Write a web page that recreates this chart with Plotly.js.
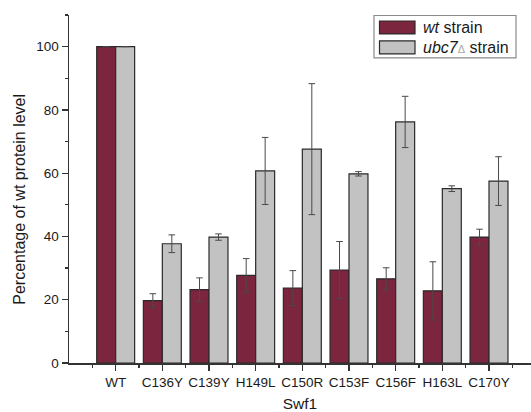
<!DOCTYPE html>
<html>
<head>
<meta charset="utf-8">
<script src="https://cdn.plot.ly/plotly-3.0.1.min.js"></script>
<style>
html,body{margin:0;padding:0;background:#fff;overflow:hidden;}
#chart{width:531px;height:412px;}
</style>
</head>
<body>
<div id="chart"></div>
<script>
// ---- data ----
const categories = ["WT","C136Y","C139Y","H149L","C150R","C153F","C156F","H163L","C170Y"];
const wtValues   = [100, 19.7, 23.2, 27.7, 23.7, 29.4, 26.6, 22.8, 39.8];
const wtErrors   = [0,   2.2,  3.7,  5.3,  5.5,  9.0,  3.5,  9.2,  2.5];
const ubcValues  = [100, 37.7, 39.8, 60.7, 67.6, 59.8, 76.2, 55.1, 57.5];
const ubcErrors  = [0,   2.8,  1.0,  10.6, 20.7, 0.7,  8.1,  0.9,  7.7];
const seriesNames = ["wt strain", "ubc7Δ strain"];
const yTicks = [0, 20, 40, 60, 80, 100];

const xIdx = categories.map((c, i) => i);

// ---- layout geometry ----
const W = 531, H = 412;
const M = {l: 69, r: 0, t: 15, b: 48.5};
const pw = W - M.l - M.r, ph = H - M.t - M.b;
const px = x => (x - M.l) / pw;
const py = y => (H - M.b - y) / ph;

const wtColor = "#7B253F";
const ubcColor = "#C2C2C2";
const edge = "#2a2a2a";
const errColor = "#4a4a4a";

const traces = [
  {
    type: "bar", name: seriesNames[0], x: xIdx, y: wtValues,
    marker: {color: wtColor, line: {color: edge, width: 1.2}},
    error_y: {type: "data", array: wtErrors, visible: true, color: errColor, thickness: 1, width: 3.3},
    showlegend: false, hoverinfo: "skip"
  },
  {
    type: "bar", name: seriesNames[1], x: xIdx, y: ubcValues,
    marker: {color: ubcColor, line: {color: edge, width: 1.2}},
    error_y: {type: "data", array: ubcErrors, visible: true, color: errColor, thickness: 1, width: 3.3},
    showlegend: false, hoverinfo: "skip"
  }
];

const fontFam = "Liberation Sans, Arial, sans-serif";

const layout = {
  width: W, height: H,
  margin: M,
  paper_bgcolor: "#fff", plot_bgcolor: "#fff",
  barmode: "group", bargap: 0.187, bargroupgap: 0,
  font: {family: fontFam, color: "#1a1a1a", size: 13},
  showlegend: false,
  xaxis: {
    range: [-1, 8.9],
    tickmode: "array", tickvals: xIdx, ticktext: categories,
    ticks: "outside", ticklen: 6, tickwidth: 1.3, tickcolor: "#333",
    minor: {tickmode: "linear", tick0: 0.5, dtick: 1, ticks: "outside", ticklen: 3, tickwidth: 1.3, tickcolor: "#333"},
    showline: true, linecolor: "#333", linewidth: 1.5,
    showgrid: false, zeroline: false,
    tickfont: {size: 13.5, color: "#1a1a1a"},
    title: {text: "Swf1", font: {size: 15.5, color: "#1a1a1a"}, standoff: 10},
    fixedrange: true
  },
  yaxis: {
    range: [0, 110],
    tickmode: "array", tickvals: yTicks,
    ticks: "outside", ticklen: 6, tickwidth: 1.3, tickcolor: "#333",
    minor: {tickmode: "linear", tick0: 10, dtick: 20, ticks: "outside", ticklen: 3, tickwidth: 1.3, tickcolor: "#333"},
    showline: true, linecolor: "#333", linewidth: 1.5,
    showgrid: false, zeroline: false,
    tickfont: {size: 13.5, color: "#1a1a1a"},
    title: {text: ""},
    fixedrange: true
  },
  shapes: [
    {type: "rect", xref: "paper", yref: "paper", x0: px(374), x1: px(516), y0: py(58), y1: py(15.5),
     line: {color: "#8a8a8a", width: 1.2}, fillcolor: "#fff"},
    {type: "rect", xref: "paper", yref: "paper", x0: px(379.5), x1: px(415), y0: py(34), y1: py(21),
     line: {color: edge, width: 1.2}, fillcolor: wtColor},
    {type: "rect", xref: "paper", yref: "paper", x0: px(379.5), x1: px(415), y0: py(54), y1: py(41),
     line: {color: edge, width: 1.2}, fillcolor: ubcColor}
  ],
  annotations: [
    {xref: "paper", yref: "paper", x: px(20), y: py(200), xanchor: "center", yanchor: "middle",
     textangle: -90, text: "Percentage of wt protein level", showarrow: false,
     font: {size: 16, color: "#1a1a1a"}},
    {xref: "paper", yref: "paper", x: px(421), y: py(27.5), xanchor: "left", yanchor: "middle",
     text: "<i>wt</i> strain", showarrow: false, font: {size: 16, color: "#1a1a1a"}},
    {xref: "paper", yref: "paper", x: px(421), y: py(47.5), xanchor: "left", yanchor: "middle",
     text: "<i>ubc7</i><span style=\"color:#aaaaaa;font-size:11px\">Δ</span> strain", showarrow: false, font: {size: 16, color: "#1a1a1a"}}
  ]
};

Plotly.newPlot("chart", traces, layout, {displayModeBar: false, staticPlot: true});
</script>
</body>
</html>
